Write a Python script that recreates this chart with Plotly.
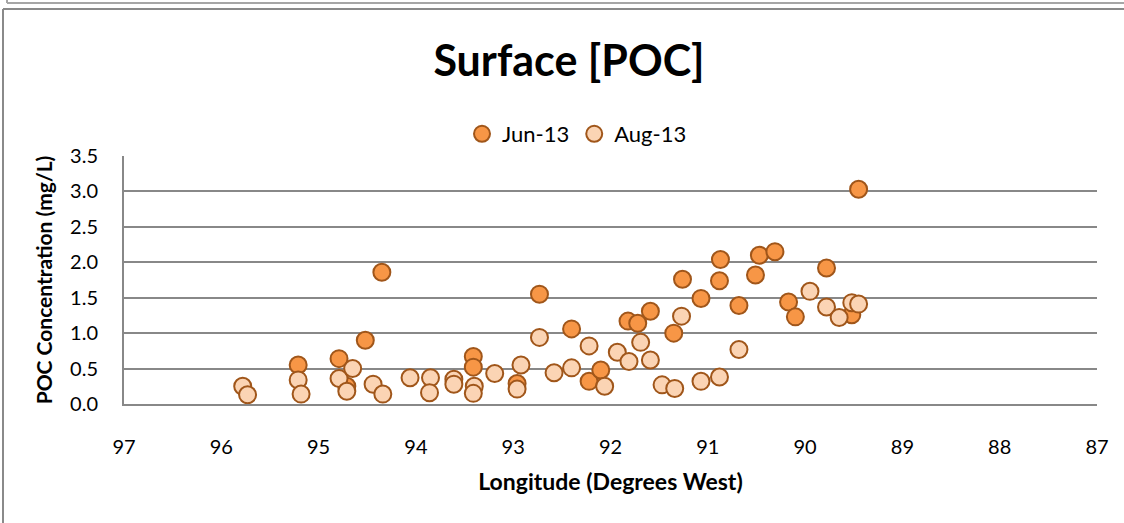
import plotly.graph_objects as go

# ---- data ----
jun_lon = [95.21, 94.79, 94.71, 94.52, 94.35, 93.41, 93.41, 92.96, 92.73, 92.40,
           92.22, 92.10, 91.82, 91.72, 91.59, 91.35, 91.26, 91.07, 90.88, 90.87,
           90.68, 90.51, 90.47, 90.31, 90.17, 90.10, 89.78, 89.52, 89.45]
jun_poc = [0.55, 0.64, 0.25, 0.90, 1.86, 0.67, 0.52, 0.29, 1.55, 1.06,
           0.32, 0.48, 1.17, 1.14, 1.31, 1.00, 1.76, 1.49, 1.74, 2.04,
           1.39, 1.82, 2.10, 2.15, 1.44, 1.23, 1.92, 1.26, 3.03]

aug_lon = [95.78, 95.73, 95.21, 95.18, 94.79, 94.65, 94.71, 94.44, 94.34, 94.06,
           93.85, 93.86, 93.61, 93.61, 93.40, 93.41, 93.19, 92.92, 92.96, 92.73,
           92.58, 92.40, 92.22, 92.06, 91.93, 91.81, 91.69, 91.59, 91.47, 91.34,
           91.27, 91.07, 90.88, 90.68, 89.95, 89.78, 89.65, 89.52, 89.45]
aug_poc = [0.25, 0.13, 0.34, 0.14, 0.36, 0.50, 0.18, 0.28, 0.14, 0.37,
           0.37, 0.16, 0.35, 0.28, 0.25, 0.15, 0.43, 0.55, 0.21, 0.94,
           0.44, 0.51, 0.82, 0.25, 0.73, 0.60, 0.87, 0.62, 0.27, 0.22,
           1.24, 0.32, 0.38, 0.77, 1.59, 1.37, 1.22, 1.43, 1.41]

x_ticks = [97, 96, 95, 94, 93, 92, 91, 90, 89, 88, 87]
y_ticks = [0.0, 0.5, 1.0, 1.5, 2.0, 2.5, 3.0, 3.5]

# ---- layout geometry ----
W, H = 1124, 523
ML, MR, MT, MB = 124, 27, 156, 119
PW, PH = W - ML - MR, H - MT - MB
FONT = "Lato"
GRID = "#888888"
EDGE = "#a0561a"

def px(x):
    return (x - ML) / PW

def py(y):
    return (H - MB - y) / PH

fig = go.Figure()
fig.add_trace(go.Scatter(
    x=jun_lon, y=jun_poc, mode="markers", name="Jun-13",
    marker=dict(size=17, color="#F79646", line=dict(color=EDGE, width=2)),
))
fig.add_trace(go.Scatter(
    x=aug_lon, y=aug_poc, mode="markers", name="Aug-13",
    marker=dict(size=17, color="#FBD4B4", line=dict(color=EDGE, width=2)),
))

shapes = [
    # fragment of the previous chart frame at top
    dict(type="line", xref="paper", yref="paper", x0=px(7), x1=px(1130), y0=py(3), y1=py(3),
         line=dict(color="#a6a6a6", width=2)),
    dict(type="line", xref="paper", yref="paper", x0=px(7), x1=px(7), y0=py(-5), y1=py(3),
         line=dict(color="#a6a6a6", width=2)),
    # chart frame
    dict(type="line", xref="paper", yref="paper", x0=px(3), x1=px(1130), y0=py(9), y1=py(9),
         line=dict(color="#8a8a8a", width=2)),
    dict(type="line", xref="paper", yref="paper", x0=px(3), x1=px(3), y0=py(9), y1=py(530),
         line=dict(color="#8a8a8a", width=2)),
]

fig.update_layout(
    width=W, height=H,
    margin=dict(l=ML, r=MR, t=MT, b=MB, autoexpand=False),
    paper_bgcolor="white", plot_bgcolor="white",
    font=dict(family=FONT, size=20, color="#000000"),
    title=dict(text="<b>Surface [POC]</b>", font=dict(family=FONT, size=43, color="#000"),
               xref="container", yref="container", x=569 / W, xanchor="center",
               y=1 - 61 / H, yanchor="middle"),
    legend=dict(orientation="h", xref="container", yref="container",
                x=577 / W, xanchor="center", y=1 - 134 / H, yanchor="middle",
                font=dict(family=FONT, size=22), itemwidth=30, bgcolor="rgba(0,0,0,0)",
                tracegroupgap=0),
    showlegend=True,
    shapes=shapes,
    xaxis=dict(
        range=[97, 87], tickvals=x_ticks, ticktext=[str(v) for v in x_ticks],
        showgrid=False, zeroline=False,
        showline=True, linecolor=GRID, linewidth=2,
        ticks="outside", ticklen=24, tickcolor="rgba(0,0,0,0)",
        tickfont=dict(family=FONT, size=20),
        title=dict(text="<b>Longitude (Degrees West)</b>", font=dict(family=FONT, size=23), standoff=17),
    ),
    yaxis=dict(
        range=[0, 3.5], tickvals=y_ticks, ticktext=[f"{v:.1f}" for v in y_ticks],
        showgrid=True, gridcolor=GRID, gridwidth=2, zeroline=False,
        showline=True, linecolor=GRID, linewidth=2,
        ticks="outside", ticklen=20, tickcolor="rgba(0,0,0,0)",
        tickfont=dict(family=FONT, size=20),
        title=dict(text="<b>POC Concentration (mg/L)</b>", font=dict(family=FONT, size=21), standoff=12),
    ),
)

fig.write_html("out.html", config={"displayModeBar": False},
               post_script="document.body.style.margin='0';")
